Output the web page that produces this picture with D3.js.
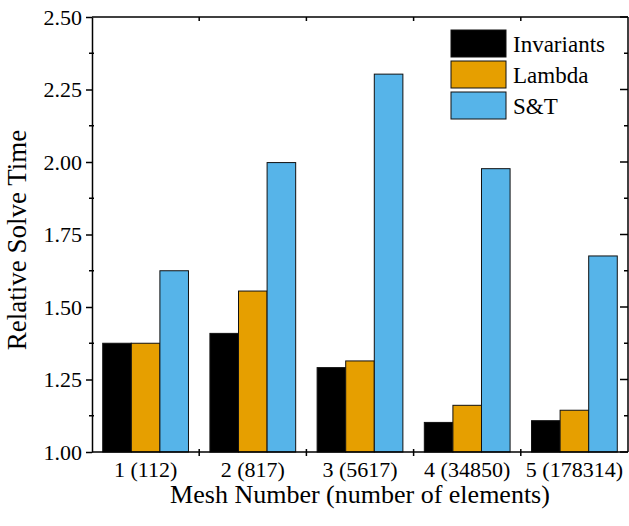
<!DOCTYPE html>
<html>
<head>
<meta charset="utf-8">
<script src="https://cdn.jsdelivr.net/npm/d3@7"></script>
<style>
  body { margin: 0; background: #fff; font-family: 'Liberation Serif', serif; }
</style>
</head>
<body>
<div class="container"></div>
<script>
const w = 629;
const h = 526;
const margin = { top: 17, bottom: 74, left: 92, right: 1 };
const width = w - margin.left - margin.right;
const height = h - margin.top - margin.bottom;
const serif = 'Liberation Serif, Times New Roman, serif';

// data
const meshes = ['1 (112)', '2 (817)', '3 (5617)', '4 (34850)', '5 (178314)'];
const series = ['Invariants', 'Lambda', 'S&T'];
const invariants = [1.375, 1.409, 1.291, 1.102, 1.108];
const lambda = [1.375, 1.555, 1.314, 1.161, 1.144];
const sAndT = [1.625, 1.998, 2.303, 1.977, 1.676];
const yTicks = [1.00, 1.25, 1.50, 1.75, 2.00, 2.25, 2.50];

const colors = ['#000000', '#E69F00', '#56B4E9'];
const values = [invariants, lambda, sAndT];

const svg = d3.select('.container').append('svg')
    .attr('width', w)
    .attr('height', h)
    .attr('font-family', serif);

const chart = svg.append('g')
    .attr('transform', `translate(${margin.left}, ${margin.top})`);

const x = d3.scaleBand()
    .domain(meshes)
    .range([0, width])
    .paddingInner(0)
    .paddingOuter(0);

const xInner = d3.scaleBand()
    .domain(series)
    .range([x.bandwidth() * 0.1, x.bandwidth() * 0.9]);

const y = d3.scaleLinear()
    .domain([1.0, 2.5])
    .range([height, 0]);

const rows = meshes.map((m, i) => ({ mesh: m, vals: series.map((s, j) => ({ s, j, v: values[j][i] })) }));

// bars
chart.append('g')
  .selectAll('g')
  .data(rows)
  .enter().append('g')
    .attr('transform', d => `translate(${x(d.mesh)},0)`)
  .selectAll('rect')
  .data(d => d.vals)
  .enter().append('rect')
    .attr('x', d => xInner(d.s))
    .attr('width', xInner.bandwidth())
    .attr('y', d => y(d.v))
    .attr('height', d => y(1) - y(d.v))
    .attr('fill', d => colors[d.j])
    .attr('stroke', '#111')
    .attr('stroke-width', 1);

// axes
const minor = d3.range(1.125, 2.5, 0.25);
const boundaries = d3.range(1, meshes.length).map(i => i * x.step());

const yAxis = d3.axisLeft(y)
    .tickValues(yTicks)
    .tickFormat(d3.format('.2f'))
    .tickSize(6)
    .tickSizeOuter(0)
    .tickPadding(4);

const gy = chart.append('g').call(yAxis)
    .attr('font-family', serif)
    .attr('font-size', 22);
gy.selectAll('text').attr('font-family', serif).attr('font-size', 22);
gy.select('.domain').attr('stroke-width', 1.5);
gy.selectAll('.tick line').attr('stroke-width', 1.5);

gy.selectAll('.minor')
  .data(minor)
  .enter().append('line')
    .attr('x1', -3).attr('x2', 2)
    .attr('y1', d => y(d)).attr('y2', d => y(d))
    .attr('stroke', '#000').attr('stroke-width', 1.5);

// right axis, inward ticks
const right = chart.append('g').attr('transform', `translate(${width},0)`);
right.append('line').attr('y1', 0).attr('y2', height).attr('stroke', '#000').attr('stroke-width', 1.5);
right.selectAll('.maj').data(yTicks).enter().append('line')
    .attr('x1', -8).attr('x2', 0)
    .attr('y1', d => y(d)).attr('y2', d => y(d))
    .attr('stroke', '#000').attr('stroke-width', 1.5);
right.selectAll('.min').data(minor).enter().append('line')
    .attr('x1', -4).attr('x2', 0)
    .attr('y1', d => y(d)).attr('y2', d => y(d))
    .attr('stroke', '#000').attr('stroke-width', 1.5);

// bottom axis
const gx = chart.append('g').attr('transform', `translate(0,${height})`);
gx.append('line').attr('x1', 0).attr('x2', width).attr('stroke', '#000').attr('stroke-width', 1.5);
gx.selectAll('.b').data(boundaries).enter().append('line')
    .attr('x1', d => d).attr('x2', d => d)
    .attr('y1', -3).attr('y2', 4)
    .attr('stroke', '#000').attr('stroke-width', 1.5);
gx.selectAll('text').data(meshes).enter().append('text')
    .attr('x', d => x(d) + x.bandwidth() / 2)
    .attr('y', 25)
    .attr('text-anchor', 'middle')
    .attr('font-family', serif)
    .attr('font-size', 22)
    .text(d => d);

// top axis
const gt = chart.append('g');
gt.append('line').attr('x1', 0).attr('x2', width).attr('stroke', '#000').attr('stroke-width', 1.5);
gt.selectAll('.t').data(boundaries).enter().append('line')
    .attr('x1', d => d).attr('x2', d => d)
    .attr('y1', 0).attr('y2', 4)
    .attr('stroke', '#000').attr('stroke-width', 1.5);

// titles
svg.append('text')
    .attr('x', margin.left + width / 2)
    .attr('y', 503)
    .attr('text-anchor', 'middle')
    .attr('font-family', serif)
    .attr('font-size', 26)
    .text('Mesh Number (number of elements)');

svg.append('text')
    .attr('transform', 'translate(26, 240) rotate(-90)')
    .attr('text-anchor', 'middle')
    .attr('font-family', serif)
    .attr('font-size', 27)
    .text('Relative Solve Time');

// legend
const legend = svg.append('g').attr('transform', 'translate(451,30)');
const item = legend.selectAll('g')
  .data(series)
  .enter().append('g')
    .attr('transform', (d, i) => `translate(0,${i * 31})`);
item.append('rect')
    .attr('width', 55).attr('height', 27)
    .attr('fill', (d, i) => colors[i])
    .attr('stroke', '#111').attr('stroke-width', 1);
item.append('text')
    .attr('x', 62).attr('y', 13.5)
    .attr('dy', '0.35em')
    .attr('font-family', serif)
    .attr('font-size', 23)
    .text(d => d);
</script>
</body>
</html>
